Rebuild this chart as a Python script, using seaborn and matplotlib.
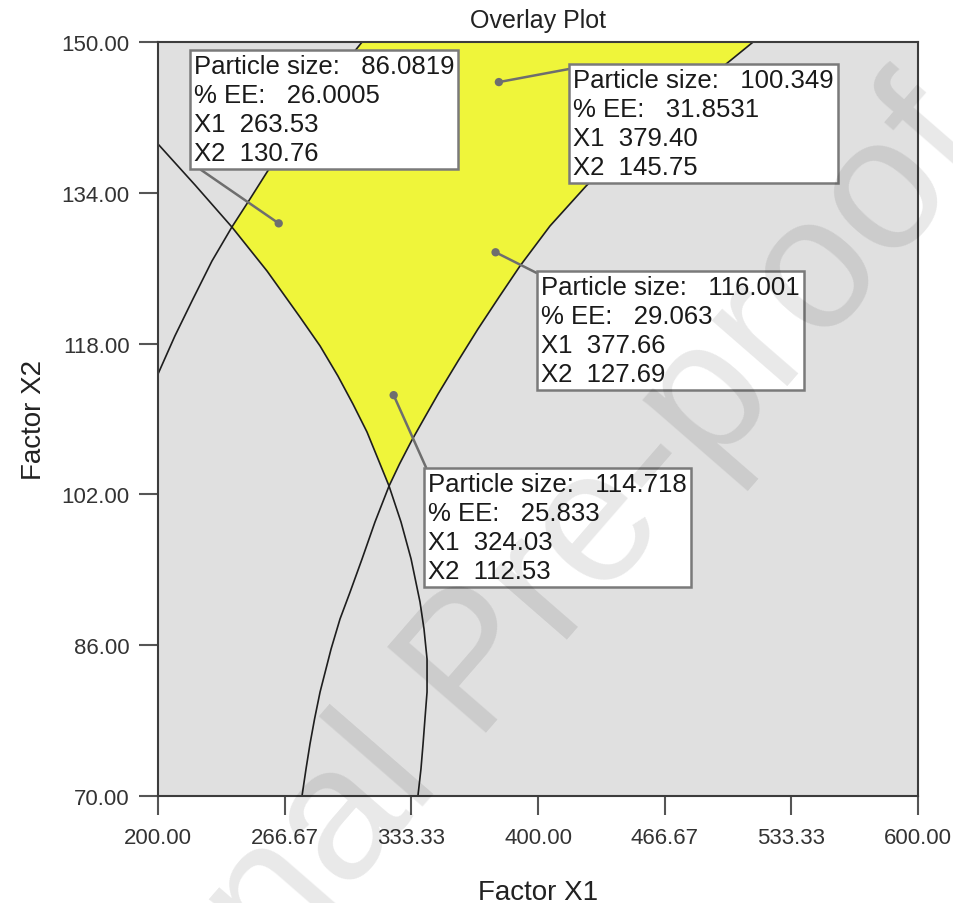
import numpy as np
import pandas as pd
import seaborn as sns
import matplotlib.pyplot as plt

# ========= 1) DATA =========
# contour A (falls from upper left, bends back near the bottom)
curve_a_x1 = [200.0, 219.5, 238.9, 257.4, 274.7, 285.3, 294.7, 302.6, 310.0, 315.8, 321.6,
              327.9, 333.2, 337.9, 340.0, 341.6, 341.6, 340.5, 339.5, 338.4, 336.8]
curve_a_x2 = [139.18, 134.83, 130.37, 125.70, 120.82, 117.75, 114.56, 111.59, 108.62, 105.76, 102.89,
              99.07, 95.15, 90.58, 87.72, 84.54, 81.03, 78.17, 75.52, 72.86, 70.0]

# contour B (rises from left edge to top edge)
curve_b_x1 = [200.0, 208.9, 218.4, 228.4, 238.9, 248.4, 257.4, 265.8, 274.7, 282.6, 290.5, 298.9, 307.4]
curve_b_x2 = [114.77, 118.81, 122.73, 126.76, 130.37, 133.34, 136.21, 138.65, 141.30, 143.53, 145.65, 147.88, 150.0]

# contour C (rises from bottom to top right)
curve_c_x1 = [275.8, 277.9, 280.0, 282.4, 285.3, 291.1, 295.8, 301.1, 307.4, 314.2, 321.6, 327.1, 333.4,
              340.5, 347.4, 357.9, 368.4, 379.5, 390.5, 406.3, 425.3, 441.1, 457.9, 477.9, 499.0, 513.2]
curve_c_x2 = [70.0, 72.86, 75.52, 78.17, 81.03, 85.60, 88.78, 91.64, 95.15, 99.07, 102.89, 105.22, 107.67,
              110.21, 112.65, 116.15, 119.55, 122.94, 126.23, 130.48, 134.72, 137.80, 140.77, 144.16, 147.67, 150.0]

# flagged points
pt_x1 = [263.53, 379.40, 377.66, 324.03]
pt_x2 = [130.76, 145.75, 127.69, 112.53]
particle_size = ["86.0819", "100.349", "116.001", "114.718"]
pct_ee = ["26.0005", "31.8531", "29.063", "25.833"]

x_ticks = [200.00, 266.67, 333.33, 400.00, 466.67, 533.33, 600.00]
y_ticks = [70.00, 86.00, 102.00, 118.00, 134.00, 150.00]

# ========= 2) STYLE =========
sns.set_theme(style="white")
plt.rcParams["font.family"] = ["Liberation Sans", "DejaVu Sans"]

fig = plt.figure(figsize=(9.54, 9.04), dpi=100)
ax = fig.add_axes([0.1656, 0.1184, 0.7967, 0.834])
ax.set_facecolor("#e0e0e0")

# ========= 3) YELLOW DESIGN SPACE =========
# A/B crossing: index 4 of B, index 2 of A ; A/C vertex: index 10 of A and of C
poly_x = curve_b_x1[4:] + curve_c_x1[10:][::-1] + curve_a_x1[2:11][::-1]
poly_y = curve_b_x2[4:] + curve_c_x2[10:][::-1] + curve_a_x2[2:11][::-1]
ax.fill(poly_x, poly_y, color="#eff53a", zorder=1, lw=0)

# ========= 4) CONTOUR LINES =========
for cx, cy in [(curve_a_x1, curve_a_x2), (curve_b_x1, curve_b_x2), (curve_c_x1, curve_c_x2)]:
    sns.lineplot(x=cx, y=cy, sort=False, estimator=None, color="#1e1e1e",
                 lw=1.2, ax=ax, zorder=2)

# ========= 5) FLAG POINTS + LABEL BOXES =========
sns.scatterplot(x=pt_x1, y=pt_x2, color="#6e6e6e", s=36, edgecolor="none", ax=ax, zorder=4)

box_tl = [(216.8, 149.15), (416.3, 147.67), (399.5, 125.7), (340.0, 104.8)]
corner = [(0, 0), (0, 1), (0, 1), (0, 1)]
for i in range(4):
    label = (f"Particle size:   {particle_size[i]}\n% EE:   {pct_ee[i]}\n"
             f"X1  {pt_x1[i]:.2f}\nX2  {pt_x2[i]:.2f}")
    bx, by = box_tl[i]
    ax.annotate(label, xy=(pt_x1[i], pt_x2[i]), xytext=(bx + 2.2, by - 0.45),
                textcoords="data", ha="left", va="top", fontsize=18.5,
                color="#1a1a1a", linespacing=1.26, zorder=5,
                bbox=dict(boxstyle="square,pad=0.15", fc="white", ec="#7a7a7a", lw=1.8),
                arrowprops=dict(arrowstyle="-", color="#6e6e6e", lw=1.8,
                                relpos=corner[i], shrinkA=0, shrinkB=0))

# ========= 6) AXES =========
ax.set_xlim(200, 600)
ax.set_ylim(70, 150)
ax.set_xticks(x_ticks)
ax.set_yticks(y_ticks)
ax.set_xticklabels([f"{t:.2f}" for t in x_ticks])
ax.set_yticklabels([f"{t:.2f}" for t in y_ticks])
ax.tick_params(axis="both", direction="out", length=13.5, width=1.5, color="#555555",
               labelsize=16, labelcolor="#333333", bottom=True, left=True)
ax.tick_params(axis="x", pad=9)
ax.tick_params(axis="y", pad=7)
for s in ax.spines.values():
    s.set_color("#3c3c3c")
    s.set_linewidth(1.5)
    s.set_zorder(6)

ax.set_xlabel("Factor X1", fontsize=20, color="#222222", labelpad=22)
ax.set_ylabel("Factor X2", fontsize=20, color="#222222", labelpad=10)
ax.set_title("Overlay Plot", fontsize=18, color="#222222", pad=11)

# watermark
fig.text(0.50, 0.26, "Journal Pre-proof", rotation=49, fontsize=136, color="black",
         alpha=0.09, ha="center", va="center", rotation_mode="anchor", zorder=20)

plt.savefig("out.png", dpi=100)
